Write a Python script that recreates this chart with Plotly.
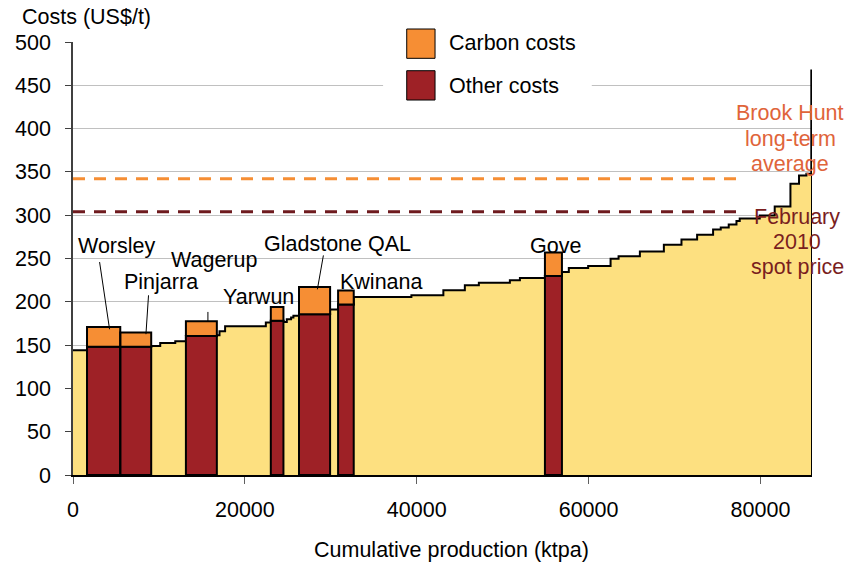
import plotly.graph_objects as go

# ---------------- data ----------------
# industry cost curve (cumulative production at start of each step, ktpa; cost US$/t)
step_x = [0, 1630, 5500, 9100, 10150, 11900, 13140, 16740, 17050, 17700, 22440, 23020,
          24490, 24880, 25380, 25650, 26300, 29920, 30850, 32670, 39380, 43100, 45600,
          47230, 50840, 52010, 54920, 56900, 57700, 59950, 62560, 63490, 65970, 68760,
          70810, 72630, 74490, 75380, 76310, 77210, 77590, 79920, 81660, 83490, 84490,
          85350, 85920]
step_cost = [144, 148, 148, 149, 152.5, 154.5, 160.6, 161.4, 166, 171.8, 176, 178,
             176.8, 179.8, 182, 184, 185.6, 191, 197, 205.5, 207.5, 213.3, 219,
             222, 224.8, 227.5, 229.8, 234.4, 239, 241.3, 249.8, 252.5, 258.2, 266,
             272, 277.5, 283.6, 285.9, 289.4, 293.2, 296.3, 299.7, 310, 336.3, 345.9,
             347.8, 467]
total_production = 86000

# Australian refineries
refineries = ["Worsley", "Pinjarra", "Wagerup", "Yarwun", "Gladstone QAL", "Kwinana", "Gove"]
ref_start = [1630, 5500, 13140, 23020, 26300, 30850, 54920]
ref_capacity = [3870, 3600, 3600, 1470, 3620, 1820, 1980]
other_costs = [148, 148, 160.6, 178, 185.6, 197, 229.8]
carbon_costs = [23, 16.5, 16.9, 16, 31.4, 16, 27.2]

# reference prices
brook_hunt_avg = 342
spot_price_feb2010 = 304
ref_line_end = 78200

x_tick_vals = [0, 20000, 40000, 60000, 80000]
x_tick_text = ["0", "20000", "40000", "60000", "80000"]

# label placement (data coords) and leader lines
label_x = [5093, 10244, 16450, 21580, 30730, 35940, 56190]
label_y = [264, 222.5, 248, 205.6, 266.3, 222.5, 264.2]
leaders = {
    "Worsley": (3093, 245.9, 4256, 168.3),
    "Pinjarra": (8790, 207.5, 8490, 162.6),
    "Wagerup": (15700, 188.3, 15700, 176.7),
    "Gladstone QAL": (29140, 253.6, 28440, 214.4),
}

# ---------------- colours ----------------
YELLOW = "#FDE080"
DARKRED = "#9E2126"
ORANGE = "#F68E34"
BH_COLOR = "#E0643A"
SPOT_COLOR = "#6E1A1E"
SPOT_TEXT = "#7A1E1E"
FONT = "Liberation Sans, Arial, sans-serif"
FS = 21.5

fig = go.Figure()

# industry cost curve
fig.add_trace(go.Scatter(
    x=step_x + [total_production], y=step_cost + [0],
    mode="lines", line=dict(shape="hv", color="black", width=2),
    fill="tozeroy", fillcolor=YELLOW, hoverinfo="skip", showlegend=False))

# refinery rectangles
ox, oy, cx, cy = [], [], [], []
for s, w, o, c in zip(ref_start, ref_capacity, other_costs, carbon_costs):
    ox += [s, s, s + w, s + w, s, None]
    oy += [0, o, o, 0, 0, None]
    cx += [s, s, s + w, s + w, s, None]
    cy += [o, o + c, o + c, o, o, None]

fig.add_trace(go.Scatter(x=ox, y=oy, mode="lines", fill="toself", fillcolor=DARKRED,
                         line=dict(color="black", width=2), name="Other costs",
                         showlegend=False))
fig.add_trace(go.Scatter(x=cx, y=cy, mode="lines", fill="toself", fillcolor=ORANGE,
                         line=dict(color="black", width=2), name="Carbon costs",
                         showlegend=False))

# reference price lines
fig.add_trace(go.Scatter(x=[0, ref_line_end], y=[brook_hunt_avg, brook_hunt_avg],
                         mode="lines", line=dict(color=ORANGE, width=3, dash="12px,9px"),
                         showlegend=False))
fig.add_trace(go.Scatter(x=[0, ref_line_end], y=[spot_price_feb2010, spot_price_feb2010],
                         mode="lines", line=dict(color=SPOT_COLOR, width=3, dash="12px,9px"),
                         showlegend=False))

annotations = []
for name, lx, ly in zip(refineries, label_x, label_y):
    annotations.append(dict(x=lx, y=ly, xref="x", yref="y", text=name, showarrow=False,
                            xanchor="center", yanchor="middle",
                            font=dict(size=FS, color="black", family=FONT)))

shapes = []
for name, (x0, y0, x1, y1) in leaders.items():
    shapes.append(dict(type="line", xref="x", yref="y", x0=x0, y0=y0, x1=x1, y1=y1,
                       line=dict(color="black", width=1), layer="above"))

# right-side annotations
for i, t in enumerate(["Brook Hunt", "long-term", "average"]):
    annotations.append(dict(x=83470, y=417.9 - i * 29.4, xref="x", yref="y", text=t,
                            showarrow=False, xanchor="center", yanchor="middle",
                            font=dict(size=FS, color=BH_COLOR, family=FONT)))
for i, t in enumerate(["February", "2010", "spot price"]):
    annotations.append(dict(x=84260, y=297.5 - i * 28.5, xref="x", yref="y", text=t,
                            showarrow=False, xanchor="center", yanchor="middle",
                            font=dict(size=FS, color=SPOT_TEXT, family=FONT)))

# manual legend (white box over gridlines)
shapes.append(dict(type="rect", xref="paper", yref="paper", x0=0.4196, x1=0.702,
                   y0=0.848, y1=1.06, fillcolor="white", line=dict(width=0), layer="above"))
shapes.append(dict(type="rect", xref="paper", yref="paper", x0=0.4516, x1=0.4899,
                   y0=0.9623, y1=1.030, fillcolor=ORANGE, line=dict(color="black", width=1),
                   layer="above"))
shapes.append(dict(type="rect", xref="paper", yref="paper", x0=0.4516, x1=0.4899,
                   y0=0.866, y1=0.9337, fillcolor=DARKRED, line=dict(color="black", width=1),
                   layer="above"))
annotations.append(dict(x=0.5056, y=0.997, xref="paper", yref="paper", text="Carbon costs",
                        xanchor="left", yanchor="middle", showarrow=False,
                        font=dict(size=FS, color="black", family=FONT)))
annotations.append(dict(x=0.5056, y=0.898, xref="paper", yref="paper", text="Other costs",
                        xanchor="left", yanchor="middle", showarrow=False,
                        font=dict(size=FS, color="black", family=FONT)))

# axis titles
annotations.append(dict(x=-0.0699, y=1.0577, xref="paper", yref="paper", text="Costs (US$/t)",
                        xanchor="left", yanchor="middle", showarrow=False, borderpad=0,
                        font=dict(size=FS, color="black", family=FONT)))
annotations.append(dict(x=0.5128, y=-0.173, xref="paper", yref="paper",
                        text="Cumulative production (ktpa)", showarrow=False,
                        xanchor="center", yanchor="middle",
                        font=dict(size=FS, color="black", family=FONT)))

# page body has an 8px margin, so the figure is 8px smaller and margins shifted
fig.update_layout(
    width=851, height=555,
    margin=dict(l=65, r=47, t=34, b=88),
    paper_bgcolor="white", plot_bgcolor="white",
    font=dict(family=FONT, size=FS, color="black"),
    showlegend=False,
    annotations=annotations, shapes=shapes,
)
fig.update_xaxes(range=[0, total_production], tickvals=x_tick_vals, ticktext=x_tick_text,
                 showgrid=False, zeroline=False, showline=True, linecolor="black", linewidth=2,
                 ticks="outside", ticklen=7, tickcolor="#606060", tickwidth=1, automargin=False,
                 ticklabelstandoff=7, tickfont=dict(size=FS, family=FONT, color="black"))
fig.update_yaxes(range=[0, 500], dtick=50, showgrid=True, gridcolor="#C0C0C0", gridwidth=1,
                 zeroline=False, showline=True, linecolor="#404040", linewidth=1.5,
                 ticks="outside", ticklen=6, tickcolor="#404040", tickwidth=1, automargin=False,
                 ticklabelstandoff=10, tickfont=dict(size=FS, family=FONT, color="black"))

fig.write_html("out.html")
